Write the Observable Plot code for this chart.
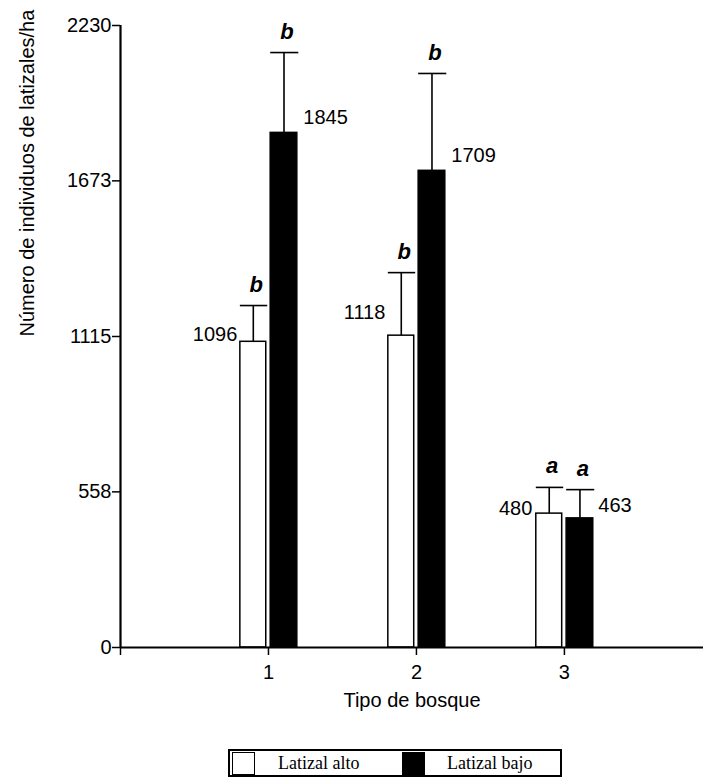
<!DOCTYPE html>
<html>
<head>
<meta charset="utf-8">
<script src="https://cdn.jsdelivr.net/npm/d3@7"></script>
<script src="https://cdn.jsdelivr.net/npm/@observablehq/plot@0.6"></script>
<style>
  body { margin: 0; background: #fff; font-family: "Liberation Sans", Arial, sans-serif; }
  #chart { position: relative; width: 703px; }
  #legend {
    position: absolute; left: 228px; top: 749px; width: 330px; height: 24px;
    border: 2px solid #000; font-family: "Liberation Serif", "Times New Roman", serif;
    font-size: 18px; color: #000; box-sizing: content-box;
  }
  #legend .sw { position: absolute; top: 1px; width: 21px; height: 21px; border: 1.5px solid #000; }
  #legend .lb { position: absolute; top: 1px; line-height: 22px; white-space: nowrap; }
</style>
</head>
<body>
<div id="chart"></div>
<div id="legend"></div>
<script>
// Forest type groups and density of saplings (individuals/ha), mean and error
const groups = [1, 2, 3];
const altoMean = [1096, 1118, 480];
const altoErr = [130, 226, 94];
const bajoMean = [1845, 1709, 463];
const bajoErr = [288, 349, 103];
const altoLetter = ["b", "b", "a"];
const bajoLetter = ["b", "b", "a"];
const yTicks = [0, 558, 1115, 1673, 2230];
const series = ["Latizal alto", "Latizal bajo"];

// Drawing settings: bar extent inside each group, fills, label nudges (px)
const barSpan = {"Latizal alto": [-0.19, -0.015], "Latizal bajo": [0.015, 0.195]};
const fills = {"Latizal alto": "white", "Latizal bajo": "black"};
const nudge = {
  "Latizal alto": [[-3, -7], [-3, -23], [-4, -5]],
  "Latizal bajo": [[6, -15], [6, -15], [5, -13]]
};

const rows = [];
groups.forEach((g, i) => {
  rows.push({g, s: series[0], mean: altoMean[i], err: altoErr[i], letter: altoLetter[i], i});
  rows.push({g, s: series[1], mean: bajoMean[i], err: bajoErr[i], letter: bajoLetter[i], i});
});
rows.forEach(r => {
  r.x1 = r.g + barSpan[r.s][0];
  r.x2 = r.g + barSpan[r.s][1];
  r.xc = (r.x1 + r.x2) / 2;
  r.top = r.mean + r.err;
});

const valueLabels = rows.map(r => {
  const [dx, dy] = nudge[r.s][r.i];
  const alto = r.s === series[0];
  return Plot.text([r], {
    x: alto ? "x1" : "x2", y: "mean", text: d => String(d.mean),
    textAnchor: alto ? "end" : "start", dx, dy, fontSize: 20, fill: "black"
  });
});

const chart = Plot.plot({
  width: 703,
  height: 740,
  marginTop: 25,
  marginLeft: 120,
  marginRight: 0,
  marginBottom: 93,
  style: {fontFamily: "'Liberation Sans', Arial, sans-serif", fontSize: "20px", color: "black", background: "white"},
  x: {domain: [0, 3.94], type: "linear"},
  y: {domain: [0, 2230]},
  marks: [
    Plot.rectY(rows, {x1: "x1", x2: "x2", y1: 0, y2: "mean", fill: d => fills[d.s], stroke: "black", strokeWidth: 1.5}),
    Plot.ruleX(rows, {x: "xc", y1: "mean", y2: "top", stroke: "black", strokeWidth: 1.6}),
    Plot.ruleY(rows, {y: "top", x1: "x1", x2: d => d.x2 + 0.01, stroke: "black", strokeWidth: 1.6}),
    ...valueLabels,
    Plot.text(rows, {x: "xc", y: "top", text: "letter", dx: 3, dy: -21, fontSize: 22, fontWeight: "bold", fontStyle: "italic", fill: "black"}),
    Plot.axisY({ticks: yTicks, tickFormat: d => String(d), tickSize: 8, tickPadding: 1, label: null, fontSize: 20, strokeWidth: 1.5}),
    Plot.axisX({ticks: [0, 1, 2, 3], tickFormat: d => d === 0 ? "" : String(d), tickSize: 8, tickPadding: 9, label: null, fontSize: 20, strokeWidth: 1.5}),
    Plot.ruleX([0], {stroke: "black", strokeWidth: 2.2}),
    Plot.ruleY([0], {stroke: "black", strokeWidth: 2.2}),
    Plot.text(["Tipo de bosque"], {frameAnchor: "bottom", dy: 59, fontSize: 20, fill: "black"}),
    Plot.text(["Número de individuos de latizales/ha"], {frameAnchor: "left", rotate: -90, dx: -93, fontSize: 20, fill: "black"})
  ]
});
document.getElementById("chart").appendChild(chart);

// Legend built from the series names
const legend = d3.select("#legend");
const swX = [2, 172], lbX = [48, 217];
series.forEach((s, k) => {
  legend.append("div").attr("class", "sw")
    .style("left", swX[k] + "px").style("background", fills[s]);
  legend.append("div").attr("class", "lb")
    .style("left", lbX[k] + "px").text(s);
});
</script>
</body>
</html>
